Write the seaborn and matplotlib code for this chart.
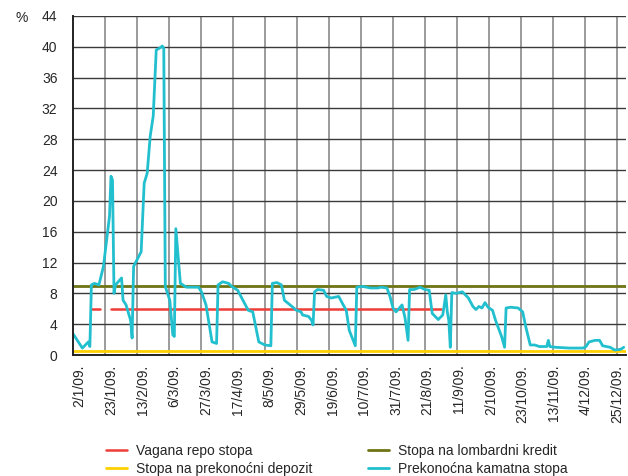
import numpy as np
import pandas as pd
import seaborn as sns
import matplotlib.pyplot as plt

# days counted from 2/1/09.
overnight_days = [-4, 2, 6, 7, 8, 10, 13, 16, 20, 21, 22, 23, 24, 28, 29, 31, 34, 35, 36, 41,
                  43, 45, 47, 49, 51, 53, 55, 56, 57, 60, 62, 63, 64, 67, 71, 79, 81, 84, 88, 91,
                  92, 95, 99, 101, 105, 109, 112, 115, 119, 123, 127, 128, 131, 134, 136, 141, 144, 147, 148, 152,
                  154, 155, 156, 158, 162, 164, 167, 172, 175, 177, 179, 183, 184, 188, 193, 198, 200, 204, 206, 208,
                  210, 214, 216, 218, 219, 222, 226, 229, 232, 234, 238, 241, 243, 244, 245, 246, 247, 250, 254, 258,
                  261, 263, 265, 267, 269, 271, 274, 276, 280, 282, 283, 286, 291, 294, 296, 299, 302, 305, 310, 311,
                  312, 316, 325, 334, 336, 338, 342, 345, 347, 352, 355, 359, 361]
overnight_rate = [2.7, 0.9, 1.7, 1.1, 9.1, 9.3, 9.1, 11.5, 18.0, 23.2, 22.7, 8.0, 9.1, 10.0, 7.1, 6.5, 4.5, 2.2, 11.5, 13.4,
                  22.3, 23.6, 28.4, 31.0, 39.6, 39.8, 40.1, 39.8, 8.9, 7.1, 2.6, 2.4, 16.4, 9.3, 8.8, 8.8, 8.2, 6.5, 1.7, 1.5,
                  9.1, 9.5, 9.3, 8.9, 8.4, 6.9, 5.8, 5.6, 1.7, 1.3, 1.2, 9.3, 9.4, 9.1, 7.1, 6.3, 5.8, 5.6, 5.2, 5.0,
                  4.5, 3.9, 8.2, 8.5, 8.4, 7.6, 7.4, 7.6, 6.5, 5.8, 3.2, 1.2, 8.8, 8.9, 8.7, 8.7, 8.8, 8.7, 7.6, 6.1,
                  5.6, 6.5, 4.8, 1.9, 8.5, 8.5, 8.8, 8.5, 8.4, 5.4, 4.6, 5.2, 7.8, 5.6, 4.5, 1.0, 8.1, 8.0, 8.2, 7.4,
                  6.3, 5.9, 6.3, 6.1, 6.8, 6.2, 5.8, 4.5, 2.4, 1.0, 6.1, 6.2, 6.1, 5.6, 3.7, 1.3, 1.3, 1.1, 1.1, 1.9,
                  1.1, 1.0, 0.9, 0.9, 1.1, 1.7, 1.9, 1.9, 1.2, 1.0, 0.65, 0.74, 1.0]

repo_days = [8, 14, 21, 240]
repo_rate = [6.0, 6.0, 6.0, 6.0]
repo_part = [1, 1, 2, 2]

edge_days = [-5, 363]
lombard_rate = [9.0, 9.0]
deposit_rate = [0.5, 0.5]

tick_labels = ["2/1/09.", "23/1/09.", "13/2/09.", "6/3/09.", "27/3/09.", "17/4/09.",
               "8/5/09.", "29/5/09.", "19/6/09.", "10/7/09.", "31/7/09.", "21/8/09.",
               "11/9/09.", "2/10/09.", "23/10/09.", "13/11/09.", "4/12/09.", "25/12/09."]

sns.set_style("white")
plt.rcParams["font.family"] = ["Liberation Sans", "DejaVu Sans"]
plt.rcParams["font.size"] = 10

df_on = pd.DataFrame({"dan": overnight_days, "stopa": overnight_rate})
df_repo = pd.DataFrame({"dan": repo_days, "stopa": repo_rate, "dio": repo_part})
df_edge = pd.DataFrame({"dan": edge_days, "lombard": lombard_rate, "depozit": deposit_rate})

fig = plt.figure(figsize=(6.28, 4.76), dpi=100)
ax = fig.add_axes([0.1158, 0.2542, 0.881, 0.7122])

sns.lineplot(data=df_edge, x="dan", y="depozit", color="#FFD000", lw=2.0, ax=ax, label="Stopa na prekonoćni depozit")
sns.lineplot(data=df_edge, x="dan", y="lombard", color="#6E7413", lw=2.0, ax=ax, label="Stopa na lombardni kredit")
sns.lineplot(data=df_repo, x="dan", y="stopa", units="dio", estimator=None, color="#EE3D37", lw=1.8, ax=ax)
sns.lineplot(data=df_on, x="dan", y="stopa", color="#22BFCE", lw=2.0, ax=ax, label="Prekonoćna kamatna stopa")
ax.get_legend().remove()

lines = ax.get_lines()
h_dep, h_lom, h_repo, h_on = lines[0], lines[1], lines[2], lines[-1]

# axes
ax.set_xlim(-4.38, 362.5)
ax.set_ylim(0, 44)
tick_pos = [21 * i for i in range(len(tick_labels))]
ax.set_xticks(tick_pos)
ax.set_xticklabels(tick_labels, rotation=90)
ax.set_xticks([-4.38 + 21.22 * i for i in range(1, 18)], minor=True)
ax.set_yticks(range(0, 45, 4))
ax.tick_params(axis="both", which="both", length=0)
ax.tick_params(axis="x", pad=7)
ax.tick_params(axis="y", pad=11)
ax.set_xlabel("")
ax.set_ylabel("")
ax.grid(False)
ax.grid(True, axis="y", which="major", color="#3a3a3a", lw=1.0)
ax.grid(True, axis="x", which="minor", color="#8a8a8a", lw=1.2)
ax.set_axisbelow(True)
for s in ["top", "right"]:
    ax.spines[s].set_visible(False)
for s in ["left", "bottom"]:
    ax.spines[s].set_color("#222222")
    ax.spines[s].set_linewidth(1.4)

fig.text(0.024, 0.962, "%", fontsize=10, ha="left", va="center")

fig.legend([h_repo, h_dep, h_lom, h_on],
           ["Vagana repo stopa", "Stopa na prekonoćni depozit",
            "Stopa na lombardni kredit", "Prekonoćna kamatna stopa"],
           loc="upper left", bbox_to_anchor=(0.169, 0.068), ncol=2, frameon=False,
           handlelength=1.5, handletextpad=0.65, columnspacing=4.0,
           labelspacing=0.3, borderpad=0, borderaxespad=0, fontsize=10)

fig.savefig("out.png", dpi=100)
